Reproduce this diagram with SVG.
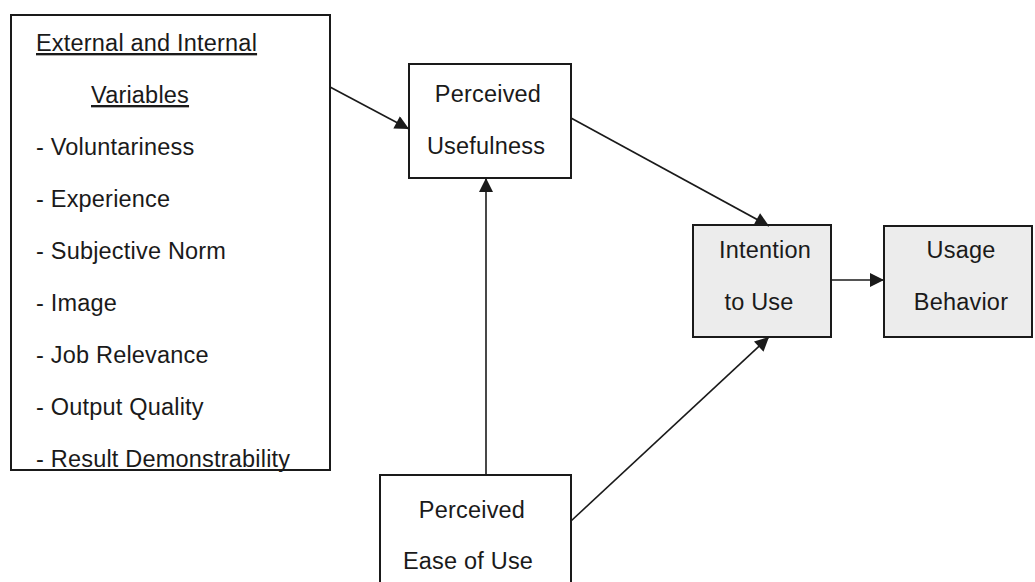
<svg xmlns="http://www.w3.org/2000/svg" width="1035" height="582" viewBox="0 0 1035 582">
<defs>
<style>
.box{stroke:#1a1a1a;stroke-width:2;fill:#fff}
.gray{fill:#ececec}
text{font-family:"Liberation Sans",Arial,sans-serif;font-size:23.5px;letter-spacing:0.2px;fill:#1a1a1a}
.c{text-anchor:middle}
.u{text-decoration:underline}
.edge{stroke:#1a1a1a;stroke-width:1.6;fill:none;marker-end:url(#ah)}
</style>
<marker id="ah" viewBox="0 0 10 10" refX="10" refY="5" markerWidth="15" markerHeight="14" markerUnits="userSpaceOnUse" orient="auto">
<path d="M0,0 L10,5 L0,10 z" fill="#1a1a1a"/>
</marker>
</defs>
<rect width="1035" height="582" fill="#fff"/>
<g id="vars">
<rect class="box" x="11" y="15" width="319" height="455"/>
<text class="u" x="36" y="51">External and Internal</text>
<text class="u" x="91" y="103">Variables</text>
<text x="36" y="155">- Voluntariness</text>
<text x="36" y="207">- Experience</text>
<text x="36" y="259">- Subjective Norm</text>
<text x="36" y="311">- Image</text>
<text x="36" y="363">- Job Relevance</text>
<text x="36" y="415">- Output Quality</text>
<text x="36" y="467">- Result Demonstrability</text>
</g>
<g id="pu">
<rect class="box" x="409" y="64" width="162" height="114"/>
<text class="c" x="488" y="102">Perceived</text>
<text class="c" x="486" y="154">Usefulness</text>
</g>
<g id="peou">
<rect class="box" x="380" y="475" width="191" height="120"/>
<text class="c" x="472" y="518">Perceived</text>
<text class="c" x="468" y="569">Ease of Use</text>
</g>
<g id="iu">
<rect class="box gray" x="693" y="225" width="138" height="112"/>
<text class="c" x="765" y="258">Intention</text>
<text class="c" x="759" y="310">to Use</text>
</g>
<g id="ub">
<rect class="box gray" x="884" y="226" width="148" height="111"/>
<text class="c" x="961" y="258">Usage</text>
<text class="c" x="961" y="310">Behavior</text>
</g>
<g id="connectors">
<path class="edge" d="M330,87 L409,129"/>
<path class="edge" d="M486,475 L486,178"/>
<path class="edge" d="M571,118 L769,226"/>
<path class="edge" d="M571,521 L769,337"/>
<path class="edge" d="M831,280 L884,280"/>
</g>
</svg>
